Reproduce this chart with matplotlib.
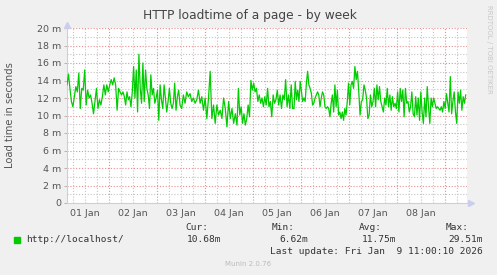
import numpy as np
import pandas as pd
import matplotlib
matplotlib.use('Agg')
import matplotlib.pyplot as plt
import matplotlib.dates as mdates

# load time readings (milliseconds), one list per stretch of the week
seg1 = [13.5, 14.73, 13.1, 11.6, 11.0, 12.15, 13.3, 12.7, 14.85, 10.8, 13.1, 12.9, 15.2, 11.2, 12.9,
        12.0, 12.35, 11.4, 10.2, 11.6, 13.1, 10.8, 11.8, 11.2, 12.15, 13.5, 12.35, 13.5, 12.7, 13.5,
        14.1, 13.5, 14.3, 13.5, 10.6, 13.1, 12.7, 12.35]
seg2 = [12.7, 12.15, 11.2, 12.7, 11.8, 12.15, 11.0, 12.7, 15.6, 12.0, 15.2, 10.4, 17.0, 13.1, 11.4,
        16.0, 11.6, 15.2, 13.1, 12.35, 10.8, 14.65, 12.35, 13.1, 11.4, 12.0, 12.9, 9.45, 13.5, 11.8,
        10.8, 13.5, 12.0, 10.4, 11.6, 13.1, 11.4, 10.8, 11.4, 13.7, 10.6, 12.15, 12.9]
seg3 = [11.2, 10.8, 12.35, 11.4, 12.7, 12.15, 12.5, 11.6, 12.0, 11.4, 11.8, 12.9, 11.4, 12.15, 10.6,
        12.0, 9.65, 12.0, 15.05, 9.65, 11.2, 9.1, 11.2, 10.05, 10.6, 9.65, 12.0, 10.8, 8.7, 11.6,
        9.65, 10.8, 9.1, 10.2]
seg4 = [8.9, 13.1, 10.05, 11.0, 9.1, 10.2, 8.9, 9.65, 11.2, 9.85, 14.0, 12.9, 13.7, 12.7, 13.1,
        11.6, 12.35, 11.4, 12.0, 11.0, 12.15, 11.2, 13.1, 11.0, 11.6, 9.85, 12.35, 11.4, 11.8, 12.9,
        11.2, 12.35, 10.8, 12.35, 11.8, 14.1, 11.0, 12.35, 10.8, 13.5, 10.8]
seg5 = [10.8, 13.9, 11.8, 12.9, 11.6, 13.9, 12.7, 11.6, 12.0, 11.6, 13.7, 15.05, 13.5, 13.1, 12.55,
        11.2, 11.4, 12.0, 12.35, 12.7, 12.35, 11.0, 12.0, 12.7, 12.35, 11.0, 10.8, 11.0, 10.8, 9.85,
        11.4, 12.35, 10.4, 13.5, 11.0, 12.9, 10.05, 10.4, 9.65, 10.4, 9.45, 10.8, 10.05, 11.6, 13.7,
        11.2]
seg6 = [13.5, 13.9, 13.1, 15.6, 14.1, 15.05, 12.7, 10.05, 11.6, 11.8, 13.5, 12.9, 12.0, 9.65, 10.05,
        12.35, 11.0, 11.6, 13.1, 11.0, 13.5, 11.8, 13.3, 11.6, 11.0, 10.4, 12.0, 11.2, 13.1, 11.0,
        12.35, 10.6, 12.15, 11.0, 11.4, 10.8, 12.7, 10.4, 13.1, 11.6, 12.9, 9.85, 13.1, 11.4]
seg7 = [11.6, 10.4, 11.0, 12.7, 10.2, 9.85, 12.15, 10.05, 12.0, 9.45, 12.7, 10.4, 9.1, 12.0, 9.85,
        13.3, 11.0, 9.1, 12.0, 11.0, 12.0, 11.4, 10.8, 11.0, 10.8, 10.6, 11.0, 10.4, 11.6, 10.8,
        12.5, 11.4, 10.4, 14.45, 10.2, 11.6, 12.7, 10.4, 9.1, 12.7, 11.4, 12.9, 10.6, 12.15, 11.4,
        12.35]
segments = [seg1, seg2, seg3, seg4, seg5, seg6, seg7]
seg_bounds = ['2026-01-01 03:00', '2026-01-02 07:00', '2026-01-03 11:30', '2026-01-04 16:00',
              '2026-01-05 20:30', '2026-01-07 01:00', '2026-01-08 05:30', '2026-01-09 11:00']

day_labels = ['01 Jan', '02 Jan', '03 Jan', '04 Jan', '05 Jan', '06 Jan', '07 Jan', '08 Jan']
y_ticks = [0, 2, 4, 6, 8, 10, 12, 14, 16, 18, 20]
legend_name = 'http://localhost/'
cur, vmin, avg, vmax = '10.68m', '6.62m', '11.75m', '29.51m'

times = []
vals = []
for i, seg in enumerate(segments):
    t = pd.date_range(seg_bounds[i], seg_bounds[i + 1], periods=len(seg) + 1)[:-1]
    times.extend(t)
    vals.extend(seg)
times = pd.DatetimeIndex(times)

W, H = 497, 275
fig = plt.figure(figsize=(W / 100, H / 100), dpi=100)
fig.patch.set_facecolor('#f0f0f0')
ax = fig.add_axes([67 / W, 1 - 203 / H, 400 / W, 175 / H])
ax.set_facecolor('white')

t0 = pd.Timestamp(seg_bounds[0])
t1 = pd.Timestamp(seg_bounds[-1])
ax.set_xlim(t0, t1)
ax.set_ylim(0, 20)

# grid: minor grey, major red, both dotted
minor = dict(color='#c4c4c4', lw=0.8, ls=(0, (1, 1.6)), zorder=1)
major = dict(color='#e49090', lw=0.8, ls=(0, (1, 1.6)), zorder=1)
for h in range(0, 21):
    if h % 2:
        ax.axhline(h, **minor)
for h in y_ticks[1:]:
    ax.axhline(h, **major)
for t in pd.date_range('2026-01-01 06:00', t1, freq='6h'):
    if t.hour != 0:
        ax.axvline(t, **minor)
midnights = pd.date_range('2026-01-02', t1, freq='D')
for t in midnights:
    ax.axvline(t, **major)

ax.plot(times, vals, color='#00cc00', lw=0.9, zorder=3)

noons = pd.date_range('2026-01-01 12:00', periods=8, freq='D')
ax.set_xticks(noons)
ax.set_xticklabels(day_labels)
ax.set_yticks(y_ticks)
ax.set_yticklabels(['0'] + ['%d m' % v for v in y_ticks[1:]])
ax.tick_params(axis='both', length=2, width=0.6, color='#aaaaaa', labelsize=6.8,
               labelcolor='#555555', pad=2)
ax.tick_params(axis='x', length=0, pad=4)

for s in ['top', 'right']:
    ax.spines[s].set_visible(False)
for s in ['left', 'bottom']:
    ax.spines[s].set_color('#ccccee')
    ax.spines[s].set_linewidth(0.8)
ax.plot([0], [1.015], marker='^', color='#ccccee', ms=4, transform=ax.transAxes, clip_on=False)
ax.plot([1.01], [0], marker='>', color='#ccccee', ms=4, transform=ax.transAxes, clip_on=False)

def px(x, y):
    return x / W, 1 - y / H

fig.text(*px(250, 15), 'HTTP loadtime of a page - by week', ha='center', va='center',
         fontsize=8.8, color='#444444')
fig.text(*px(10, 115), 'Load time in seconds', ha='center', va='center', rotation=90,
         fontsize=7.2, color='#555555')
fig.text(*px(489, 5), 'RRDTOOL / TOBI OETIKER', ha='center', va='top', rotation=270,
         fontsize=5, color='#c8c8c8')

mono = dict(family='DejaVu Sans Mono', fontsize=6.8, color='#333333', va='center')
fig.patches.append(plt.Rectangle(px(14, 243), 6 / W, 6 / H, transform=fig.transFigure,
                                 color='#00cc00'))
fig.text(*px(26, 240), legend_name, ha='left', **mono)
fig.text(*px(185, 228), 'Cur:', ha='left', **mono)
fig.text(*px(272, 228), 'Min:', ha='left', **mono)
fig.text(*px(359, 228), 'Avg:', ha='left', **mono)
fig.text(*px(446, 228), 'Max:', ha='left', **mono)
fig.text(*px(221, 240), cur, ha='right', **mono)
fig.text(*px(308, 240), vmin, ha='right', **mono)
fig.text(*px(396, 240), avg, ha='right', **mono)
fig.text(*px(483, 240), vmax, ha='right', **mono)
fig.text(*px(483, 252), 'Last update: Fri Jan  9 11:00:10 2026', ha='right', **mono)
fig.text(*px(248, 264), 'Munin 2.0.76', ha='center', va='center', fontsize=5,
         color='#bbbbbb')

fig.savefig('out.png', dpi=100, facecolor=fig.get_facecolor())
